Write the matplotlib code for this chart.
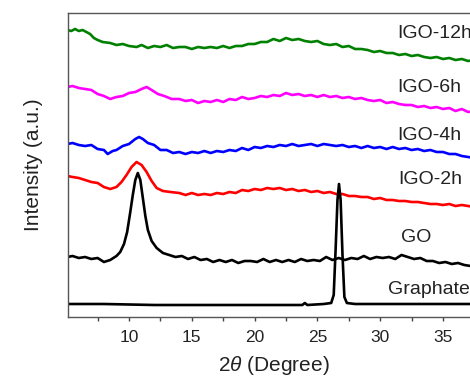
"""
XRD patterns of graphite, GO and IGO samples (stacked, offset intensities).
Output: out.png
"""

import matplotlib.pyplot as plt
from matplotlib.ticker import MultipleLocator, NullLocator

plt.rcParams["font.family"] = ["Liberation Sans", "DejaVu Sans"]
plt.rcParams["mathtext.fontset"] = "custom"
plt.rcParams["mathtext.it"] = "Liberation Sans:italic"
plt.rcParams["mathtext.rm"] = "Liberation Sans"

# ============================================================
#  Data (2theta in degrees, offset intensity in a.u.)
# ============================================================

igo12_x = [5.1, 5.4, 5.7, 6.0, 6.3, 6.6, 6.9, 7.2, 7.5, 7.9, 8.5, 9.0, 9.5, 10.0,
           10.6, 11.0, 11.5, 12.0, 12.5, 13.0, 13.5, 14.0, 14.5, 15.0, 15.5, 16.0,
           16.5, 17.0, 17.5, 18.0, 18.5, 19.0, 19.5, 20.0, 20.5, 21.0, 21.5, 22.0,
           22.5, 23.0, 23.5, 24.0, 24.5, 25.0, 25.5, 26.0, 26.5, 27.0, 27.5, 28.0,
           28.5, 29.0, 29.5, 30.0, 30.5, 31.0, 31.5, 32.0, 32.5, 33.0, 33.5, 34.0,
           34.5, 35.0, 35.5, 36.0, 36.5, 37.0, 37.5, 38.0]
igo12_y = [287, 286, 288, 286, 287, 285, 283, 279, 277, 275, 274, 272, 273, 271,
           270, 272, 269, 271, 270, 272, 269, 270, 270, 268, 270, 269, 270, 269,
           271, 269, 271, 271, 273, 273, 275, 275, 278, 276, 279, 277, 278, 276,
           275, 276, 273, 272, 273, 270, 271, 268, 268, 267, 265, 266, 264, 264,
           262, 263, 261, 262, 260, 259, 260, 258, 259, 257, 258, 256, 257, 255]

igo6_x = [5.1, 5.5, 6.0, 6.5, 7.0, 7.5, 8.0, 8.5, 9.0, 9.5, 10.0, 10.5, 11.0, 11.4,
          11.8, 12.3, 12.8, 13.4, 14.0, 14.5, 15.0, 15.5, 16.0, 16.5, 17.0, 17.5,
          18.0, 18.5, 19.0, 19.5, 20.0, 20.5, 21.0, 21.5, 22.0, 22.5, 23.0, 23.5,
          24.0, 24.5, 25.0, 25.5, 26.0, 26.5, 27.0, 27.5, 28.0, 28.5, 29.0, 29.5,
          30.0, 30.5, 31.0, 31.5, 32.0, 32.5, 33.0, 33.5, 34.0, 34.5, 35.0, 35.5,
          36.0, 36.5, 37.0, 37.5, 38.0]
igo6_y = [230, 231, 229, 228, 227, 223, 221, 218, 220, 221, 224, 225, 228, 230,
          227, 223, 221, 218, 218, 216, 217, 214, 216, 215, 217, 215, 218, 217,
          220, 218, 219, 221, 220, 222, 221, 224, 222, 223, 221, 222, 220, 222,
          220, 221, 219, 220, 218, 219, 217, 216, 217, 214, 215, 213, 212, 212,
          210, 211, 209, 210, 208, 209, 206, 208, 205, 206, 205]

igo4_x = [5.1, 5.5, 6.0, 6.5, 7.0, 7.5, 8.0, 8.3, 8.7, 9.0, 9.5, 10.0, 10.5, 10.8,
          11.1, 11.5, 12.0, 12.5, 13.0, 13.5, 14.0, 14.5, 15.0, 15.5, 16.0, 16.5,
          17.0, 17.5, 18.0, 18.5, 19.0, 19.5, 20.0, 20.5, 21.0, 21.5, 22.0, 22.5,
          23.0, 23.5, 24.0, 24.5, 25.0, 25.5, 26.0, 26.5, 27.0, 27.5, 28.0, 28.5,
          29.0, 29.5, 30.0, 30.5, 31.0, 31.5, 32.0, 32.5, 33.0, 33.5, 34.0, 34.5,
          35.0, 35.5, 36.0, 36.5, 37.0, 37.5, 38.0]
igo4_y = [173, 174, 172, 171, 172, 168, 167, 163, 166, 167, 171, 173, 178, 180,
          178, 174, 172, 167, 167, 164, 165, 163, 165, 164, 166, 164, 166, 165,
          167, 166, 169, 167, 170, 169, 171, 170, 172, 171, 173, 171, 172, 173,
          171, 173, 172, 171, 172, 170, 171, 169, 171, 169, 170, 168, 170, 168,
          169, 167, 168, 166, 167, 165, 165, 163, 163, 161, 160, 159, 158]

igo2_x = [5.1, 5.5, 6.0, 6.5, 7.0, 7.5, 8.0, 8.5, 9.0, 9.4, 9.8, 10.2, 10.6, 11.0,
          11.4, 11.8, 12.2, 12.7, 13.3, 14.0, 14.5, 15.0, 15.5, 16.0, 16.5, 17.0,
          17.5, 18.0, 18.5, 19.0, 19.5, 20.0, 20.5, 21.0, 21.5, 22.0, 22.5, 23.0,
          23.5, 24.0, 24.5, 25.0, 25.5, 26.0, 26.5, 27.0, 27.5, 28.0, 28.5, 29.0,
          29.5, 30.0, 30.5, 31.0, 31.5, 32.0, 32.5, 33.0, 33.5, 34.0, 34.5, 35.0,
          35.5, 36.0, 36.5, 37.0, 37.5, 38.0]
igo2_y = [141, 140, 139, 137, 135, 134, 130, 128, 130, 135, 142, 150, 155, 152,
          145, 136, 129, 126, 125, 124, 122, 124, 122, 123, 122, 124, 123, 125,
          124, 127, 126, 128, 127, 129, 128, 129, 127, 128, 126, 127, 125, 126,
          124, 125, 123, 123, 121, 121, 120, 120, 118, 119, 117, 117, 116, 116,
          115, 115, 114, 113, 113, 112, 113, 111, 112, 111, 110, 110]

go_x = [5.1, 5.5, 6.0, 6.5, 7.0, 7.5, 8.0, 8.5, 9.0, 9.3, 9.6, 9.85, 10.1, 10.3,
        10.5, 10.7, 10.9, 11.1, 11.3, 11.5, 11.8, 12.2, 12.7, 13.2, 13.7, 14.2,
        14.7, 15.2, 15.7, 16.2, 16.7, 17.2, 17.7, 18.2, 18.7, 19.2, 19.7, 20.2,
        20.7, 21.2, 21.7, 22.2, 22.7, 23.2, 23.7, 24.2, 24.7, 25.2, 25.7, 26.2,
        26.7, 27.2, 27.7, 28.2, 28.7, 29.2, 29.7, 30.2, 30.7, 31.2, 31.7, 32.2,
        32.7, 33.2, 33.7, 34.2, 34.7, 35.2, 35.7, 36.2, 36.7, 37.2, 37.7]
go_y = [60, 61, 59, 60, 58, 59, 55, 57, 61, 65, 73, 85, 105, 122,
        137, 144, 137, 119, 101, 87, 76, 69, 64, 62, 60, 61, 58, 60, 57, 58,
        55, 57, 55, 57, 54, 56, 56, 55, 58, 55, 57, 55, 57, 55, 58, 56, 57, 56,
        60, 57, 59, 57, 59, 58, 61, 58, 60, 59, 60, 58, 62, 60, 58, 59, 56, 56,
        54, 55, 53, 54, 52, 51, 51]

gr_x = [5.1, 8.0, 12.0, 16.0, 20.0, 23.8, 24.0, 24.2, 25.5, 26.1, 26.3, 26.45,
        26.6, 26.72, 26.85, 27.0, 27.15, 27.35, 28.0, 32.0, 36.0, 38.0]
gr_y = [13, 13, 12, 12, 12, 12, 14, 12, 13, 14, 22, 67,
        117, 133, 117, 62, 20, 14, 13, 13, 13, 13]

series = [
    (igo12_x, igo12_y, "#008000", "IGO-12h", 397, 33),
    (igo6_x, igo6_y, "#ff00ff", "IGO-6h", 397, 88),
    (igo4_x, igo4_y, "#0000ff", "IGO-4h", 397, 135),
    (igo2_x, igo2_y, "#ff0000", "IGO-2h", 398, 180),
    (go_x, go_y, "#000000", "GO", 401, 238),
    (gr_x, gr_y, "#000000", "Graphate", 388, 289),
]

# ============================================================
#  Plot
# ============================================================

W, H = 470, 380
fig = plt.figure(figsize=(W / 100, H / 100), dpi=100)
ax = fig.add_axes([68 / W, 63 / H, 412 / W, 304 / H])

for xs, ys, col, name, px, py in series:
    ax.plot(xs, ys, color=col, linewidth=1.9)
    ax.text(px / W, 1 - py / H, name, transform=fig.transFigure,
            fontsize=14, va="center", ha="left", color="#222222")

ax.set_xlim(5.14, 37.95)
ax.set_ylim(0, 304)
ax.xaxis.set_major_locator(MultipleLocator(5))
ax.xaxis.set_minor_locator(MultipleLocator(2.5))
ax.yaxis.set_major_locator(NullLocator())
ax.tick_params(axis="x", which="major", direction="out", length=3, width=1,
               labelsize=12.5, colors="#444444", labelcolor="#222222", pad=6)
ax.tick_params(axis="x", which="minor", direction="out", length=3, width=1,
               colors="#444444")
for sp in ax.spines.values():
    sp.set_color("#555555")
    sp.set_linewidth(1.0)

ax.set_xlabel("$2\\theta$ (Degree)", fontsize=15, color="#222222", labelpad=7)
ax.set_ylabel("Intensity (a.u.)", fontsize=15, color="#222222", labelpad=18)

fig.savefig("out.png", dpi=100)
